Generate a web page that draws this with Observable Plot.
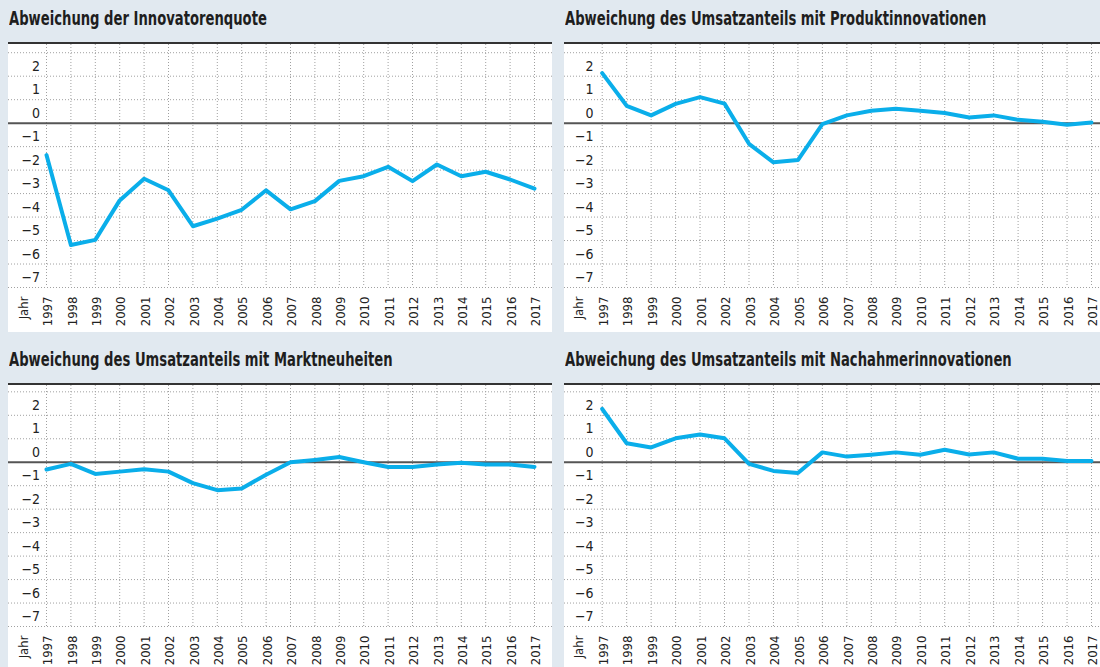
<!DOCTYPE html>
<html><head><meta charset="utf-8">
<script src="https://cdn.jsdelivr.net/npm/d3@7"></script>
<script src="https://cdn.jsdelivr.net/npm/@observablehq/plot@0.6"></script>
<style>
html,body{margin:0;padding:0;background:#e1e9f0;width:1100px;height:667px;overflow:hidden;font-family:"DejaVu Sans Condensed","DejaVu Sans",sans-serif;}
.title{position:absolute;font-size:19px;line-height:19px;font-weight:bold;color:#1e1e1e;white-space:nowrap;transform:scaleX(0.77);transform-origin:0 0;font-stretch:condensed;}
.panel{position:absolute;background:#fff;border-top:2px solid #333;}
.panel svg{display:block;}
</style></head><body>
<script>
const years = [1997,1998,1999,2000,2001,2002,2003,2004,2005,2006,2007,2008,2009,2010,2011,2012,2013,2014,2015,2016,2017];
const innovatorenquote = [-1.36,-5.19,-4.97,-3.29,-2.37,-2.86,-4.39,-4.07,-3.69,-2.86,-3.67,-3.32,-2.46,-2.26,-1.86,-2.47,-1.76,-2.26,-2.07,-2.40,-2.79];
const produktinnovationen = [2.13,0.74,0.33,0.82,1.11,0.83,-0.88,-1.67,-1.57,-0.04,0.33,0.53,0.61,0.53,0.43,0.24,0.33,0.14,0.06,-0.07,0.03];
const marktneuheiten = [-0.31,-0.07,-0.50,-0.40,-0.30,-0.40,-0.89,-1.19,-1.12,-0.53,0.00,0.10,0.22,0.00,-0.20,-0.20,-0.10,-0.02,-0.10,-0.10,-0.20];
const nachahmerinnovationen = [2.27,0.81,0.63,1.02,1.18,1.02,-0.07,-0.37,-0.46,0.42,0.24,0.32,0.42,0.32,0.53,0.33,0.42,0.15,0.15,0.05,0.05];
const titles = [
  "Abweichung der Innovatorenquote",
  "Abweichung des Umsatzanteils mit Produktinnovationen",
  "Abweichung des Umsatzanteils mit Marktneuheiten",
  "Abweichung des Umsatzanteils mit Nachahmerinnovationen"
];
const yTickLabels = [2,1,0,-1,-2,-3,-4,-5,-6,-7];
const gridValues = [3,2,1,-1,-2,-3,-4,-5,-6,-7];
const xAxisLabel = "Jahr";

const fmt = d => d < 0 ? "\u2212" + Math.abs(d) : String(d);
const FONT = '"DejaVu Sans Condensed","DejaVu Sans",sans-serif';

const panels = [
  {title: titles[0], values: innovatorenquote, left: 8, width: 544, titleTop: 9, top: 42, height: 288, x0: 38, x1: 526, labelX: 31.5, yTop: 3.35, yBottom: 243},
  {title: titles[1], values: produktinnovationen, left: 564, width: 536, titleTop: 9, top: 42, height: 288, x0: 37.7, x1: 527, labelX: 29, yTop: 3.35, yBottom: 243},
  {title: titles[2], values: marktneuheiten, left: 8, width: 544, titleTop: 350, top: 383, height: 282, x0: 38, x1: 526, labelX: 31.5, yTop: 3.27, yBottom: 241},
  {title: titles[3], values: nachahmerinnovationen, left: 564, width: 536, titleTop: 350, top: 383, height: 282, x0: 37.7, x1: 527, labelX: 29, yTop: 3.27, yBottom: 241}
];

const xLabelData = [{year: years[0] - 1, label: xAxisLabel}].concat(years.map(y => ({year: y, label: String(y)})));

for (const p of panels) {
  const t = document.createElement("div");
  t.className = "title";
  t.style.left = (p.left + 1) + "px";
  t.style.top = p.titleTop + "px";
  t.textContent = p.title;
  document.body.appendChild(t);

  const data = years.map((yr, i) => ({year: yr, value: p.values[i]}));
  const chart = Plot.plot({
    width: p.width, height: p.height,
    marginLeft: 0, marginRight: 0, marginTop: 0, marginBottom: 0,
    x: {type: "linear", domain: [1997, 2017], range: [p.x0, p.x1], axis: null},
    y: {domain: [-7, p.yTop], range: [p.yBottom, 0], axis: null},
    style: {fontFamily: FONT, fontSize: "14px", color: "#222", background: "#fff", overflow: "visible"},
    marks: [
      Plot.ruleY(gridValues, {stroke: "#a0a0a0", strokeWidth: 1, strokeDasharray: "1,2"}),
      Plot.ruleX(years, {y1: () => p.yTop, y2: () => -7, stroke: "#a0a0a0", strokeWidth: 1, strokeDasharray: "1,2"}),
      Plot.ruleY([0], {stroke: "#555", strokeWidth: 2}),
      Plot.text(yTickLabels, {y: d => d, frameAnchor: "left", dx: p.labelX, dy: -10, textAnchor: "end", fontSize: 14, text: d => fmt(d)}),
      Plot.text(xLabelData, {x: "year", y: () => -7, dy: 9, dx: 1.5, rotate: -90, textAnchor: "end", fontSize: 13, text: "label"}),
      Plot.line(data, {x: "year", y: "value", stroke: "#0aaeea", strokeWidth: 4})
    ]
  });
  const div = document.createElement("div");
  div.className = "panel";
  div.style.left = p.left + "px";
  div.style.top = p.top + "px";
  div.style.width = p.width + "px";
  div.appendChild(chart);
  document.body.appendChild(div);
}
</script>
</body></html>
